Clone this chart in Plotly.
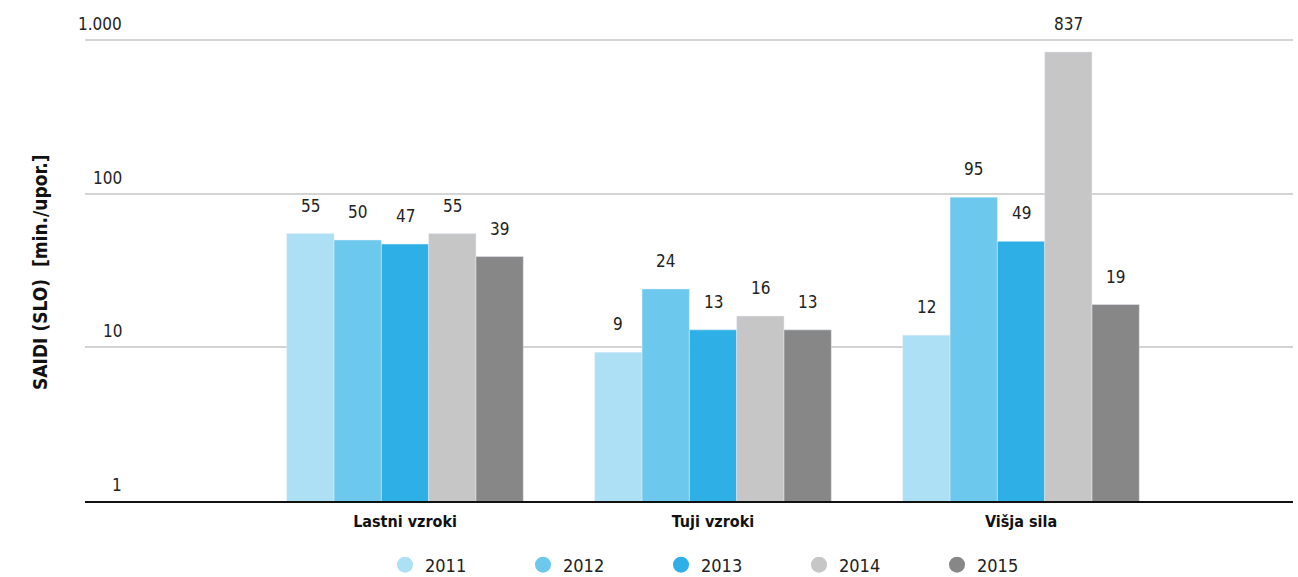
import math
import plotly.graph_objects as go

categories = ["Lastni vzroki", "Tuji vzroki", "Višja sila"]
years = ["2011", "2012", "2013", "2014", "2015"]
values = {
    "2011": [55, 9.3, 12],
    "2012": [50, 24, 95],
    "2013": [47, 13, 49],
    "2014": [55, 16, 837],
    "2015": [39, 13, 19],
}
labels = {
    "2011": ["55", "9", "12"],
    "2012": ["50", "24", "95"],
    "2013": ["47", "13", "49"],
    "2014": ["55", "16", "837"],
    "2015": ["39", "13", "19"],
}
colors = ["#ADDFF5", "#6CC8EC", "#2EAFE6", "#C6C6C6", "#878787"]
tick_vals = [1, 10, 100, 1000]
tick_text = ["1", "10", "100", "1.000"]

FONT = "Liberation Sans Narrow, DejaVu Sans Condensed, Arial Narrow, sans-serif"

W, H, L, R, T, B = 1298, 577, 85, 5, 37, 76
pw = W - L - R
ph = H - T - B
XR = [-1.039, 2.883]
BARGAP = 0.232
cat_px = pw / (XR[1] - XR[0])
bar_px = cat_px * (1 - BARGAP) / len(years)

fig = go.Figure()
annotations = []
for i, (y, c) in enumerate(zip(years, colors)):
    fig.add_trace(go.Bar(
        x=categories, y=values[y], name=y, marker_color=c,
        showlegend=False, hoverinfo="x+y",
    ))
    for cat, v, t in zip(categories, values[y], labels[y]):
        annotations.append(dict(
            x=cat, y=math.log10(v), xref="x", yref="y", text=t,
            showarrow=False, xanchor="center", yanchor="middle",
            xshift=(i - (len(years) - 1) / 2) * bar_px, yshift=28,
            font=dict(size=17, color="#222222", family=FONT),
        ))
for y, c in zip(years, colors):
    fig.add_trace(go.Scatter(
        x=[None], y=[None], mode="markers", name=y,
        marker=dict(symbol="circle", size=20, color=c),
    ))

for v, t in zip(tick_vals, tick_text):
    annotations.append(dict(
        x=(124 - L) / pw, xref="paper", y=math.log10(v), yref="y", text=t,
        showarrow=False, xanchor="right", yanchor="bottom", yshift=4,
        font=dict(size=17, color="#222222", family=FONT),
    ))
annotations.append(dict(
    x=(40 - L) / pw, xref="paper", y=(H - B - 272) / ph, yref="paper",
    text="<b>SAIDI (SLO)  [min./upor.]</b>", textangle=-90, showarrow=False,
    xanchor="center", yanchor="middle",
    font=dict(size=19, color="#111111", family=FONT),
))

fig.update_layout(
    width=W, height=H,
    margin=dict(l=L, r=R, t=T, b=B, autoexpand=False),
    paper_bgcolor="white", plot_bgcolor="white",
    barmode="group", bargap=BARGAP, bargroupgap=0,
    font=dict(family=FONT, size=16, color="#222222"),
    xaxis=dict(
        type="category", range=XR,
        showline=True, linecolor="#111111", linewidth=2,
        ticks="", ticklabelstandoff=5,
        tickfont=dict(size=16, family=FONT, color="#111111", weight="bold"),
        showgrid=False, automargin=False,
    ),
    yaxis=dict(
        type="log", range=[0, 3.02], tickvals=tick_vals, showticklabels=False,
        showgrid=True, gridcolor="#D4D4D4", gridwidth=1.5,
        zeroline=False, ticks="", automargin=False,
    ),
    legend=dict(
        orientation="h", x=(730 - L) / pw, xanchor="center",
        y=-(565 - (H - B)) / ph, yanchor="middle", entrywidth=93,
        font=dict(size=18, family=FONT, color="#222222"),
    ),
    annotations=annotations,
)

fig.write_html("out.html", post_script="document.body.style.margin='0';",
               config={"displayModeBar": False})
